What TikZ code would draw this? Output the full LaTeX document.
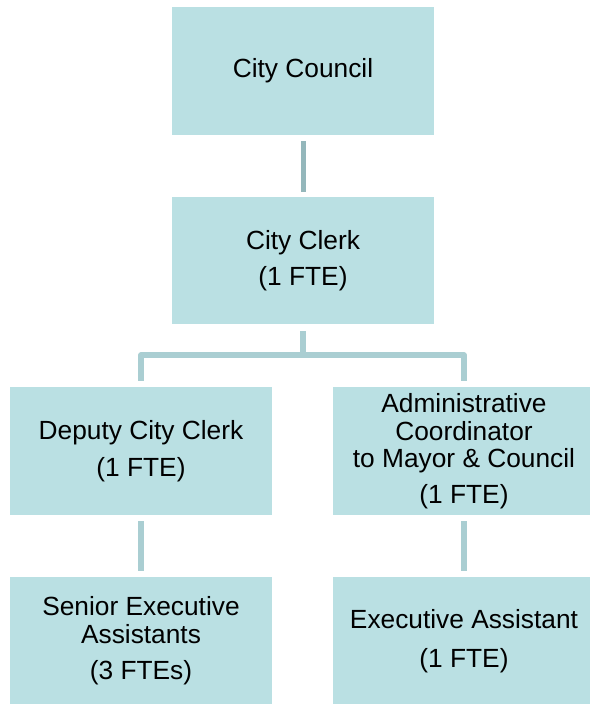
\documentclass[tikz,border=0pt]{standalone}
\usepackage{fontspec}
\setmainfont{Liberation Sans}
\begin{document}
\definecolor{boxfill}{HTML}{BAE0E3}
\definecolor{connA}{HTML}{94B7BB}
\definecolor{connB}{HTML}{AACED2}
\begin{tikzpicture}[x=1pt,y=-1pt,
  orgbox/.style={fill=boxfill,draw=none,minimum width=262pt,minimum height=128pt,inner sep=0pt,
    align=center,font=\fontsize{26.3}{27.5}\selectfont},
  conn/.style={line width=5.5pt,draw=connB}]
\useasboundingbox (0,0) rectangle (589,704);
\node[orgbox] (council) at (303,71) {City Council};
\node[orgbox,minimum height=127pt] (clerk) at (303,260.5) {City Clerk\\[9pt](1 FTE)};
\node[orgbox] (deputy) at (141,451) {Deputy City Clerk\\[9pt](1 FTE)};
\node[orgbox] (admin) at (464,451) {Administrative\\Coordinator\\to Mayor \& Council\\[8pt](1 FTE)};
\node[orgbox] (senior) at (141,641) {Senior Executive\\Assistants\\[9pt](3 FTEs)};
\node[orgbox] (exec) at (464,641) {Executive Assistant\\[11pt](1 FTE)};
\draw[conn,draw=connA,line width=5pt,shorten <=6pt,shorten >=5pt] (council.south) -- (clerk.north);
\coordinate (split) at ([yshift=-31pt]clerk.south);
\draw[conn] ([yshift=-7pt]clerk.south) -- (split);
\draw[conn,line join=round] (split) -| ([yshift=6pt]deputy.north);
\draw[conn,line join=round] (split) -| ([yshift=6pt]admin.north);
\draw[conn,shorten <=6pt,shorten >=6pt] (deputy.south) -- (senior.north);
\draw[conn,shorten <=6pt,shorten >=6pt] (admin.south) -- (exec.north);
\end{tikzpicture}
\end{document}
